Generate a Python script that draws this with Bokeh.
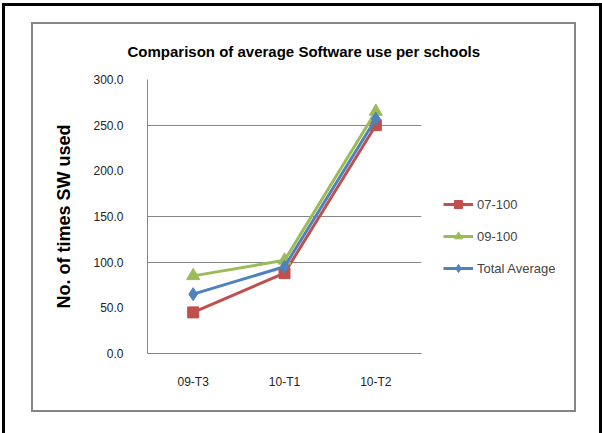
from bokeh.plotting import figure
from bokeh.models import (FactorRange, Range1d, FixedTicker, PrintfTickFormatter,
                          Legend, LegendItem, InlineStyleSheet)
from bokeh.embed import file_html
from bokeh.resources import INLINE

categories = ["09-T3", "10-T1", "10-T2"]
s_07_100 = [45, 88, 250]
s_09_100 = [85, 102, 265]
s_total = [65, 95, 257]
y_ticks = [0, 50, 100, 150, 200, 250, 300]
grid_ticks = [100, 150, 250, 300]
title_text = "Comparison of average Software use per schools"
y_label = "No. of times SW used"

FONT = "Liberation Sans"

p = figure(width=602, height=433, output_backend="svg", toolbar_location=None,
           x_range=FactorRange(factors=categories), y_range=Range1d(0, 300),
           min_border_left=147, min_border_right=181, min_border_top=79,
           min_border_bottom=80)
p.frame_width = 274
p.frame_height = 274
p.outline_line_color = None
p.background_fill_color = "white"
p.border_fill_color = "white"

# title
p.title.text = title_text
p.title.align = "left"
p.title.offset = -20
p.title.standoff = 40
p.title.text_font = FONT
p.title.text_font_style = "bold"
p.title.text_font_size = "15px"
p.title.text_color = "#000000"

# axes
for ax in (p.xaxis[0], p.yaxis[0]):
    ax.axis_line_color = "#868686"
    ax.axis_line_width = 1
    ax.major_tick_line_color = None
    ax.minor_tick_line_color = None
    ax.major_tick_out = 0
    ax.major_tick_in = 0
    ax.minor_tick_out = 0
    ax.major_label_text_font = FONT
    ax.major_label_text_font_size = "12px"
    ax.major_label_text_color = "#222222"
p.yaxis.ticker = FixedTicker(ticks=y_ticks)
p.yaxis.formatter = PrintfTickFormatter(format="%.1f")
p.yaxis.major_label_standoff = 24
p.xaxis.major_label_standoff = 21
p.yaxis.axis_label = y_label
p.yaxis.axis_label_text_font = FONT
p.yaxis.axis_label_text_font_style = "bold"
p.yaxis.axis_label_text_font_size = "18px"
p.yaxis.axis_label_text_color = "#000000"
p.yaxis.axis_label_standoff = 16

p.xgrid.grid_line_color = None
p.ygrid.ticker = FixedTicker(ticks=grid_ticks)
p.ygrid.grid_line_color = "#868686"
p.ygrid.grid_line_width = 1

series = [
    ("07-100", s_07_100, "#C0504D", "square", 11),
    ("09-100", s_09_100, "#9BBB59", "triangle", 13),
    ("Total Average", s_total, "#4F81BD", "diamond", 13),
]
items = []
for name, vals, color, marker, size in series:
    r1 = p.line(categories, vals, line_color=color, line_width=3)
    r2 = p.scatter(categories, vals, marker=marker, size=size,
                   fill_color=color, line_color=color)
    items.append(LegendItem(label=name, renderers=[r1, r2]))

legend = Legend(items=items, location=(22, 75), padding=0, margin=0,
                glyph_width=30, glyph_height=20, spacing=12,
                label_text_font=FONT, label_text_font_size="13px",
                label_standoff=4, border_line_color=None,
                background_fill_alpha=0)
p.add_layout(legend, "right")

# inner gray frame and outer black frame (decorative borders of the picture)
css = """
:host::before {
  content: ""; position: absolute; left: 2px; top: 3px; width: 600px; height: 430px;
  box-sizing: border-box; border: 3px solid #000000; border-bottom: none;
  pointer-events: none; z-index: 100;
}
:host::after {
  content: ""; position: absolute; left: 31px; top: 22px; width: 545px; height: 390px;
  box-sizing: border-box; border: 2px solid #868686;
  pointer-events: none; z-index: 100;
}
"""
p.stylesheets = [InlineStyleSheet(css=css)]

open("out.html", "w").write(file_html(p, INLINE))
